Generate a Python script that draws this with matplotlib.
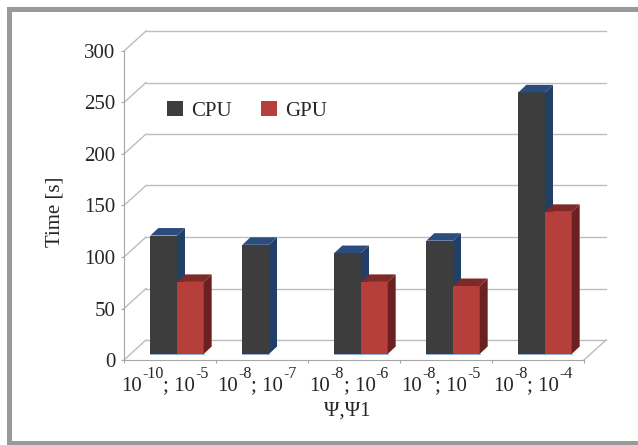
import matplotlib
matplotlib.use("Agg")
import matplotlib.pyplot as plt
from matplotlib.patches import Rectangle, Polygon, Patch
from matplotlib.lines import Line2D
from matplotlib.transforms import ScaledTranslation

# ---- data -------------------------------------------------------------
psi_exponents = [-10, -8, -8, -8, -8]      # Ψ  = 10^e
psi1_exponents = [-5, -7, -6, -5, -4]      # Ψ1 = 10^e
cpu_times = [115, 106, 98, 110, 254]
gpu_times = [70, None, 70, 66, 138]
series_names = ["CPU", "GPU"]
y_ticks = [0, 50, 100, 150, 200, 250, 300]
x_title = "Ψ,Ψ1"
y_title = "Time [s]"

# ---- style ------------------------------------------------------------
plt.rcParams["font.family"] = ["Liberation Serif", "DejaVu Serif"]

FS = 15
FS_SUP = 11.5
TEXT = "#262626"
GRID = "#bdbdbd"
AXIS = "#a6a6a6"
FRAME = "#9a9a9a"
CPU_FACES = ("#3d3d3d", "#223f66", "#2b4d7e")   # front, side, top
GPU_FACES = ("#b63f3b", "#6a2120", "#7d2a28")

W, H = 638, 445
DPI = 100
fig = plt.figure(figsize=(W / DPI, H / DPI), dpi=DPI)
fig.patch.set_facecolor("white")

# front plane of the plot box
ax = fig.add_axes([124 / W, 1 - 360 / H, 460 / W, 309 / H])
n = len(cpu_times)
ax.set_xlim(0, n)
ax.set_ylim(0, 300)
ax.set_facecolor("none")

# pixel -> data unit conversion for the pseudo-3D offsets
p0 = ax.transData.transform((0, 0))
p1 = ax.transData.transform((1, 1))
sx, sy = p1[0] - p0[0], p1[1] - p0[1]

wall_dx, wall_dy = 22 / sx, 20 / sy        # depth of the plot box
bar_fx, bar_fy = 7 / sx, 6 / sy            # bar front face position in depth
bar_dx, bar_dy = 8 / sx, 7.5 / sy          # bar depth
bar_w = 0.29

# ---- walls and floor --------------------------------------------------
for v in y_ticks:
    ax.add_line(Line2D([wall_dx, n + wall_dx], [v + wall_dy, v + wall_dy],
                       color=GRID, lw=1.0, clip_on=False, zorder=1))
    ax.add_line(Line2D([0, wall_dx], [v, v + wall_dy],
                       color=GRID, lw=1.0, clip_on=False, zorder=1))
ax.add_line(Line2D([n, n + wall_dx], [0, wall_dy], color=GRID, lw=1.0,
                   clip_on=False, zorder=1))

# ---- bars -------------------------------------------------------------
z = 3


def draw_bar(x0, h, faces):
    global z
    front, side, top = faces
    fx, fy = x0 + bar_fx, bar_fy
    ax.add_patch(Rectangle((fx, fy), bar_w, h, facecolor=front,
                           edgecolor="none", clip_on=False, zorder=z))
    ax.add_patch(Polygon([(fx + bar_w, fy), (fx + bar_w + bar_dx, fy + bar_dy),
                          (fx + bar_w + bar_dx, fy + h + bar_dy), (fx + bar_w, fy + h)],
                         closed=True, facecolor=side, edgecolor="none",
                         clip_on=False, zorder=z))
    ax.add_patch(Polygon([(fx, fy + h), (fx + bar_dx, fy + h + bar_dy),
                          (fx + bar_w + bar_dx, fy + h + bar_dy), (fx + bar_w, fy + h)],
                         closed=True, facecolor=top, edgecolor="none",
                         clip_on=False, zorder=z))
    ax.add_line(Line2D([fx, fx + bar_w], [fy, fy], color="#7f9fd0", lw=0.6,
                       clip_on=False, zorder=z + 0.5))
    z += 1


for i in range(n):
    if cpu_times[i] is not None:
        draw_bar(i + 0.5 - bar_w, cpu_times[i], CPU_FACES)
    if gpu_times[i] is not None:
        draw_bar(i + 0.5, gpu_times[i], GPU_FACES)

# ---- axes -------------------------------------------------------------
for s in ("top", "right"):
    ax.spines[s].set_visible(False)
for s in ("left", "bottom"):
    ax.spines[s].set_color(AXIS)
    ax.spines[s].set_linewidth(0.8)

ax.set_yticks(y_ticks)
ax.set_yticklabels([str(v) for v in y_ticks])
ax.tick_params(axis="y", direction="out", length=2.2, width=0.8, color=AXIS,
               labelsize=FS, labelcolor=TEXT, pad=4)

ax.set_xticks(range(n + 1))
ax.set_xticklabels([])
ax.tick_params(axis="x", which="major", direction="out", length=2.5,
               width=0.8, color=AXIS)

# category labels "10^a; 10^b" built from base text and raised exponents
renderer = fig.canvas.get_renderer()


def text_width(s, size):
    t = fig.text(0, 0, s, fontsize=size)
    w = t.get_window_extent(renderer).width
    t.remove()
    return w


BASELINE = -30.7   # px below the axis line
SUP_RAISE = 12.7   # px above the baseline
for i, (a, b) in enumerate(zip(psi_exponents, psi1_exponents)):
    parts = [("10", FS, 0), (f"-{abs(a)}", FS_SUP, SUP_RAISE),
             ("; 10", FS, 0), (f"-{abs(b)}", FS_SUP, SUP_RAISE)]
    widths = [text_width(s, fs) for s, fs, _ in parts]
    x = -sum(widths) / 2 - 5
    for (s, fs, dy), w in zip(parts, widths):
        tr = ax.transData + ScaledTranslation(x / DPI, (BASELINE + dy) / DPI,
                                              fig.dpi_scale_trans)
        ax.text(i + 0.5, 0, s, transform=tr, ha="left", va="baseline",
                fontsize=fs, color=TEXT, clip_on=False)
        x += w

fig.text(347 / W, 1 - 411 / H, x_title, ha="center", va="center",
         fontsize=FS, color=TEXT)
fig.text(55 / W, 1 - 212 / H, y_title, ha="center", va="center",
         rotation=90, fontsize=FS, color=TEXT)

# ---- legend -----------------------------------------------------------
handles = [Patch(facecolor=CPU_FACES[0], edgecolor="none"),
           Patch(facecolor=GPU_FACES[0], edgecolor="none")]
fig.legend(handles, series_names, loc="center left",
           bbox_to_anchor=(167 / W, 1 - 111 / H), bbox_transform=fig.transFigure,
           ncol=2, frameon=False, fontsize=FS, handlelength=0.75,
           handleheight=0.75, handletextpad=0.4, columnspacing=1.4,
           borderpad=0, borderaxespad=0, labelcolor=TEXT)

# ---- outer frame ------------------------------------------------------
for (x, y, w, h) in [(7, 7, W - 7, 5), (7, 7, 5, H - 7), (7, H - 4, W - 7, 4)]:
    fig.patches.append(Rectangle((x / W, 1 - (y + h) / H), w / W, h / H,
                                 transform=fig.transFigure, figure=fig,
                                 facecolor=FRAME, edgecolor="none"))

fig.savefig("out.png", dpi=DPI, facecolor="white")
